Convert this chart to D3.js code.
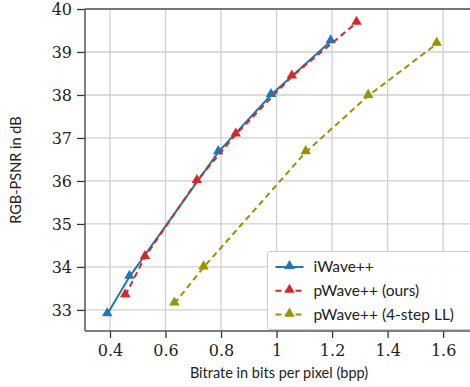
<!DOCTYPE html>
<html>
<head>
<meta charset="utf-8">
<script src="https://cdn.jsdelivr.net/npm/d3@7"></script>
<style>
  body { margin: 0; background: #fff; }
  svg { display: block; }
  .ttl { font-family: Lato, sans-serif; fill: #222; }
</style>
</head>
<body>
<svg id="chart" width="470" height="387"></svg>
<script>
// values
var iwaveX = [0.39, 0.47, 0.79, 0.98, 1.195];
var iwaveY = [32.9, 33.77, 36.67, 38.0, 39.25];

var pwaveX = [0.455, 0.526, 0.713, 0.853, 1.055, 1.288];
var pwaveY = [33.34, 34.23, 36.0, 37.08, 38.43, 39.68];

var llX = [0.632, 0.737, 1.105, 1.33, 1.577];
var llY = [33.15, 33.99, 36.67, 37.98, 39.19];

var xTicks = [0.4, 0.6, 0.8, 1, 1.2, 1.4, 1.6];
var yTicks = [33, 34, 35, 36, 37, 38, 39, 40];

var seriesNames = ["iWave++", "pWave++ (ours)", "pWave++ (4-step LL)"];
var seriesColors = ["#1f77b4", "#d62728", "#9a9200"];
var seriesDash = [null, "6,4", "6,4"];

function zip(xs, ys) {
	return xs.map(function(x, i) { return {x: x, y: ys[i]}; });
}
var series = [zip(iwaveX, iwaveY), zip(pwaveX, pwaveY), zip(llX, llY)];

var svg = d3.select("#chart");
var plotL = 85, plotR = 472, plotT = 9, plotB = 331;

var x = d3.scaleLinear().domain([0.31, 1.704]).range([plotL, plotR]);
var y = d3.scaleLinear().domain([32.51, 40]).range([plotB, plotT]);

// grid
svg.append("g").selectAll("line").data(xTicks).enter().append("line")
	.attr("x1", function(d) { return x(d); }).attr("x2", function(d) { return x(d); })
	.attr("y1", plotT).attr("y2", plotB)
	.attr("stroke", "#cfcfcf").attr("stroke-width", 1.3);
svg.append("g").selectAll("line").data(yTicks).enter().append("line")
	.attr("x1", plotL).attr("x2", plotR)
	.attr("y1", function(d) { return y(d); }).attr("y2", function(d) { return y(d); })
	.attr("stroke", "#cfcfcf").attr("stroke-width", 1.3);

// axes
var xAxis = d3.axisBottom(x).tickValues(xTicks).tickSize(7).tickPadding(6)
	.tickFormat(function(d) { return d3.format("")(d); });
var yAxis = d3.axisLeft(y).tickValues(yTicks).tickSize(8).tickPadding(5)
	.tickFormat(d3.format("d"));

var gx = svg.append("g").attr("transform", "translate(0," + plotB + ")").call(xAxis);
var gy = svg.append("g").attr("transform", "translate(" + plotL + ",0)").call(yAxis);
[gx, gy].forEach(function(g) {
	g.select(".domain").remove();
	g.selectAll(".tick line").attr("stroke", "#333").attr("stroke-width", 1.3);
	g.selectAll(".tick text")
		.style("font-family", "'DejaVu Serif', serif")
		.style("font-size", "16px").style("fill", "#222");
});
gx.selectAll("text").attr("dy", "0.75em");
gy.selectAll("text").attr("dy", "0.35em");

// spines
svg.append("line").attr("x1", plotL).attr("x2", plotL).attr("y1", plotT).attr("y2", plotB)
	.attr("stroke", "#555").attr("stroke-width", 1.5);
svg.append("line").attr("x1", plotL).attr("x2", plotR).attr("y1", plotB).attr("y2", plotB)
	.attr("stroke", "#555").attr("stroke-width", 1.5);
svg.append("line").attr("x1", plotL).attr("x2", plotR).attr("y1", plotT).attr("y2", plotT)
	.attr("stroke", "#555").attr("stroke-width", 1.5);

// lines + markers
var line = d3.line().x(function(d) { return x(d.x); }).y(function(d) { return y(d.y); });
var tri = d3.symbol().type(d3.symbolTriangle).size(48);

series.forEach(function(pts, i) {
	var g = svg.append("g");
	g.append("path").datum(pts).attr("d", line)
		.attr("fill", "none").attr("stroke", seriesColors[i]).attr("stroke-width", 2)
		.attr("stroke-dasharray", seriesDash[i]);
	g.selectAll("path.m").data(pts).enter().append("path").attr("class", "m")
		.attr("d", tri)
		.attr("transform", function(d) { return "translate(" + x(d.x) + "," + (y(d.y) - 1) + ")"; })
		.attr("fill", seriesColors[i]);
});

// axis titles
svg.append("text").attr("class", "ttl").attr("x", 279).attr("y", 378).attr("text-anchor", "middle")
	.attr("font-size", 14.5)
	.text("Bitrate in bits per pixel (bpp)");
svg.append("text").attr("class", "ttl").attr("transform", "translate(21,170) rotate(-90)")
	.attr("text-anchor", "middle").attr("font-size", 14.5)
	.text("RGB-PSNR in dB");

// legend
var lg = svg.append("g").attr("transform", "translate(267.5,251.5)");
lg.append("rect").attr("width", 215).attr("height", 78).attr("rx", 2)
	.attr("fill", "#fff").attr("fill-opacity", 0.9)
	.attr("stroke", "#cccccc").attr("stroke-width", 1);
seriesNames.forEach(function(name, i) {
	var ry = 15.5 + i * 23.8;
	lg.append("line").attr("x1", 8).attr("x2", 36).attr("y1", ry).attr("y2", ry)
		.attr("stroke", seriesColors[i]).attr("stroke-width", 2)
		.attr("stroke-dasharray", seriesDash[i]);
	lg.append("path").attr("d", tri).attr("transform", "translate(22," + (ry - 1) + ")")
		.attr("fill", seriesColors[i]);
	lg.append("text").attr("class", "ttl").attr("x", 46).attr("y", ry).attr("dy", "0.35em")
		.attr("font-size", 15.5)
		.text(name);
});
</script>
</body>
</html>
